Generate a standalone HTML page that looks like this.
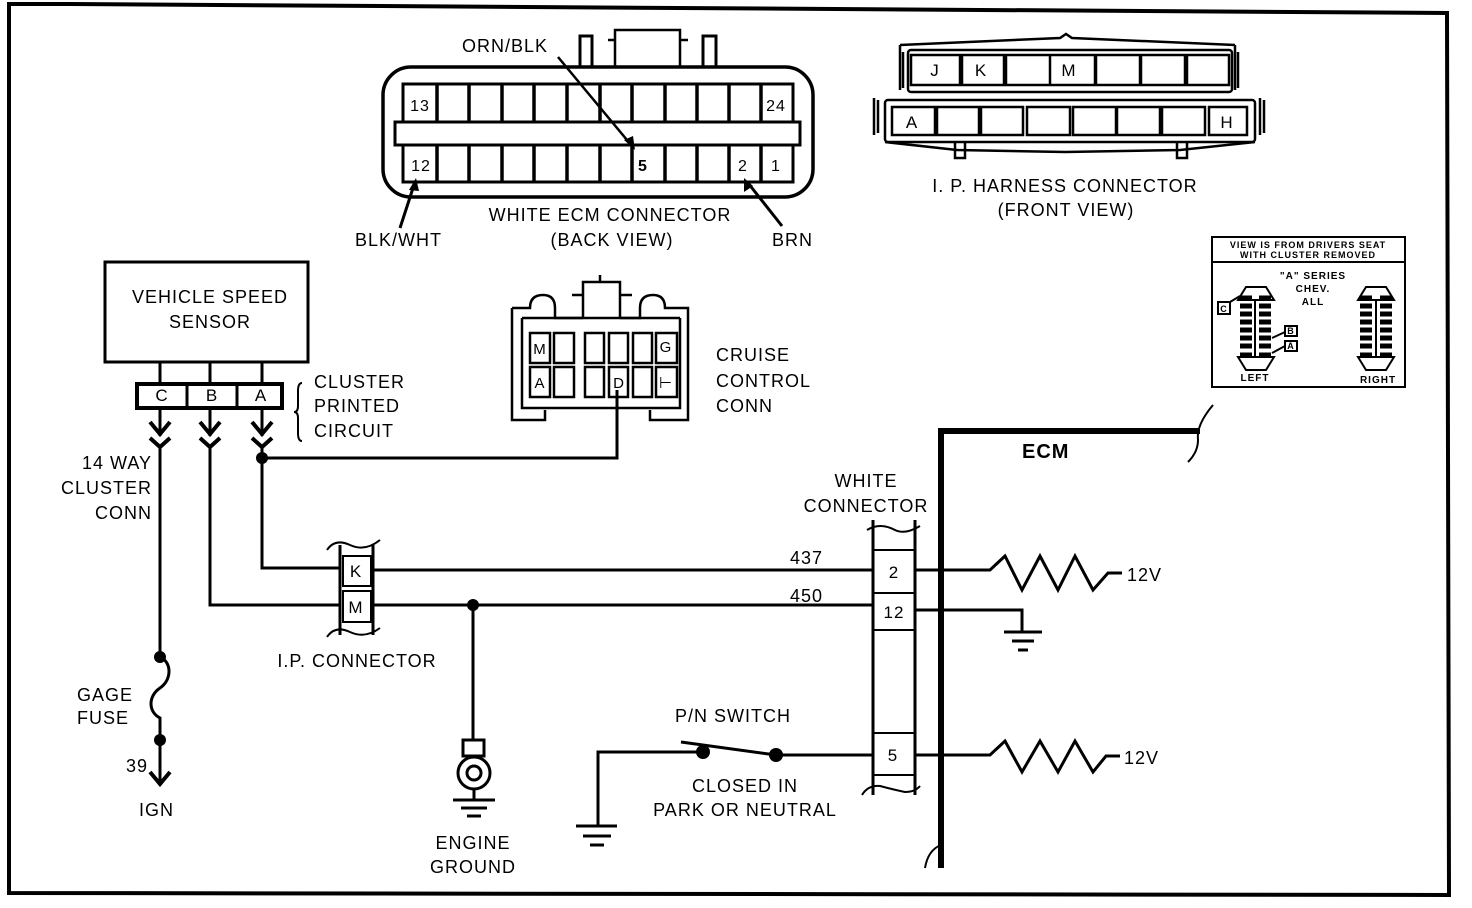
<!DOCTYPE html>
<html><head><meta charset="utf-8"><style>
html,body{margin:0;padding:0;background:#fff;}
svg{display:block;}
text{font-family:"Liberation Sans",sans-serif;fill:#000;letter-spacing:1px;}
</style></head><body>
<svg width="1472" height="908" viewBox="0 0 1472 908" xmlns="http://www.w3.org/2000/svg">
<g fill="none" stroke="#000" stroke-width="3">
<path d="M9,60 L9,4 L70,4 L1447,13 L1449,895 L9,893 L9,60" stroke-width="4"/>
</g>
<g fill="none" stroke="#000" stroke-width="2.5">
<rect x="383" y="67" width="430" height="130" rx="28" stroke-width="3.5"/>
<path d="M580,67 V36 H592 V67 M703,67 V36 H716 V67" stroke-width="3"/>
<path d="M615,66 V30 H680 V66 M608,40 H615 M680,40 H688"/>
<rect x="395" y="122" width="405" height="23" stroke-width="3"/>
<path d="M403,122 V84 H793 V122 M403,145 V182 H793 V145" stroke-width="3"/>
<g stroke-width="3.5">
<path d="M437,84 V122 M469,84 V122 M502,84 V122 M534,84 V122 M567,84 V122 M600,84 V122 M632,84 V122 M665,84 V122 M697,84 V122 M729,84 V122 M761,84 V122"/>
<path d="M437,145 V182 M469,145 V182 M502,145 V182 M534,145 V182 M567,145 V182 M600,145 V182 M632,145 V182 M665,145 V182 M697,145 V182 M729,145 V182 M761,145 V182"/>
</g>
<path d="M558,57 L632,146" stroke-width="2.5"/>
<path d="M400,228 L414,185" stroke-width="3"/>
<path d="M782,226 L748,183" stroke-width="3"/>
</g>
<g fill="#000">
<polygon points="635,150 624,140 633,136"/>
<polygon points="416,178 409,190 419,191"/>
<polygon points="744,178 744,192 753,186"/>
</g>
<g font-size="18">
<text x="420" y="111" text-anchor="middle" font-size="16">13</text>
<text x="776" y="111" text-anchor="middle" font-size="16">24</text>
<text x="421" y="171" text-anchor="middle" font-size="16">12</text>
<text x="643" y="171" text-anchor="middle" font-size="16" font-weight="bold">5</text>
<text x="743" y="171" text-anchor="middle" font-size="16">2</text>
<text x="776" y="171" text-anchor="middle" font-size="16">1</text>
<text x="462" y="52">ORN/BLK</text>
<text x="355" y="246">BLK/WHT</text>
<text x="772" y="246">BRN</text>
<text x="610" y="221" text-anchor="middle">WHITE ECM CONNECTOR</text>
<text x="612" y="246" text-anchor="middle">(BACK VIEW)</text>
</g>

<g fill="none" stroke="#000" stroke-width="2.5">
<path d="M900,45 L1060,38 L1066,34 L1072,38 L1235,45"/>
<rect x="908" y="50" width="324" height="42" rx="3"/>
<path d="M900,45 V90 M1235,45 V90 M903,52 V88 M1238,52 V88"/>
<path d="M911,55 h51 v30 h-51z M960,55 h44 v30 h-44z M1006,55 h44 v30 h-44z M1050,55 h45 v30 h-45z M1096,55 h44 v30 h-44z M1141,55 h44 v30 h-44z M1187,55 h42 v30 h-42z"/>
<rect x="885" y="100" width="370" height="42" rx="3"/>
<path d="M874,98 V135 M1260,98 V135 M878,100 V133 M1264,100 V133"/>
<path d="M892,107 h43 v28 h-43z M937,107 h42 v28 h-42z M981,107 h42 v28 h-42z M1027,107 h43 v28 h-43z M1073,107 h43 v28 h-43z M1117,107 h43 v28 h-43z M1162,107 h43 v28 h-43z M1209,107 h38 v28 h-38z"/>
<path d="M885,142 L957,150 L1065,152 L1180,150 L1255,142"/>
<path d="M955,142 V158 H965 V142 M1177,142 V158 H1187 V142"/>
</g>
<g font-size="17" text-anchor="middle">
<text x="935" y="76">J</text><text x="981" y="76">K</text><text x="1069" y="76">M</text>
<text x="912" y="128">A</text><text x="1227" y="128">H</text>
</g>
<g font-size="18" text-anchor="middle">
<text x="1065" y="192">I. P. HARNESS CONNECTOR</text>
<text x="1066" y="216">(FRONT VIEW)</text>
</g>

<g fill="none" stroke="#000" stroke-width="2">
<rect x="1212" y="237" width="193" height="150"/>
<path d="M1212,262 H1405"/>
<path d="M1238,300 L1246,287 H1266 L1274,300 Z M1238,357 L1246,370 H1266 L1274,357 Z"/>
<path d="M1255,300 V358"/>
<path d="M1358,300 L1366,287 H1386 L1394,300 Z M1358,357 L1366,370 H1386 L1394,357 Z"/>
<path d="M1376,300 V358"/>
<path d="M1230,302 h-12 v12 h12 z M1285,326 h12 v10 h-12z M1285,341 h12 v10 h-12z M1230,302 L1240,296 M1285,332 L1272,338 M1285,346 L1272,353"/>
</g>
<g stroke="#000" stroke-width="5">
<path d="M1240,298 h12 M1240,306 h12 M1240,314 h12 M1240,322 h12 M1240,330 h12 M1240,338 h12 M1240,346 h12 M1240,355 h12"/>
<path d="M1259,298 h12 M1259,306 h12 M1259,314 h12 M1259,322 h12 M1259,330 h12 M1259,338 h12 M1259,346 h12 M1259,355 h12"/>
<path d="M1360,298 h12 M1360,306 h12 M1360,314 h12 M1360,322 h12 M1360,330 h12 M1360,338 h12 M1360,346 h12 M1360,355 h12"/>
<path d="M1380,298 h12 M1380,306 h12 M1380,314 h12 M1380,322 h12 M1380,330 h12 M1380,338 h12 M1380,346 h12 M1380,355 h12"/>
</g>
<g font-size="9" font-weight="bold" text-anchor="middle" style="letter-spacing:0">
<text x="1308" y="248">VIEW IS FROM DRIVERS SEAT</text>
<text x="1308" y="258">WITH CLUSTER REMOVED</text>
<text x="1313" y="279" font-size="10">"A" SERIES</text>
<text x="1313" y="292" font-size="10">CHEV.</text>
<text x="1313" y="305" font-size="10">ALL</text>
<text x="1224" y="312">C</text><text x="1291" y="334">B</text><text x="1291" y="349">A</text>
<text x="1255" y="381" font-size="10">LEFT</text><text x="1378" y="383" font-size="10">RIGHT</text>
</g>

<g fill="none" stroke="#000" stroke-width="3">
<rect x="105" y="262" width="203" height="100"/>
<path d="M160,362 V384 M210,362 V384 M262,362 V384"/>
<rect x="137" y="384" width="145" height="24" stroke-width="4"/>
<path d="M187,384 V408 M237,384 V408"/>
<path d="M160,408 V436 M210,408 V436 M262,408 V436"/>
<path d="M150,422 L160,434 L170,422 M200,422 L210,434 L220,422 M252,422 L262,434 L272,422" stroke-width="4"/>
<path d="M150,438 L160,447 L170,438 M200,438 L210,447 L220,438 M252,438 L262,447 L272,438" stroke-width="4"/>
<path d="M302,383 q-4,0 -4,8 v15 q0,6 -4,6 q4,0 4,6 v15 q0,8 4,8" stroke-width="2"/>
<path d="M160,447 V657 M210,447 V605 H340 M262,447 V568 H340 M262,458 H617 V390"/>
<path d="M160,657 C172,662 172,680 160,688 C148,696 148,712 160,718 V783"/>
<path d="M150,772 L160,784 L170,772" stroke-width="4"/>
</g>
<g fill="#000">
<circle cx="262" cy="458" r="6"/><circle cx="160" cy="657" r="6"/><circle cx="160" cy="740" r="6"/>
<circle cx="473" cy="605" r="6"/><circle cx="703" cy="752" r="7"/><circle cx="776" cy="755" r="7"/>
</g>
<g font-size="18">
<text x="210" y="303" text-anchor="middle">VEHICLE SPEED</text>
<text x="210" y="328" text-anchor="middle">SENSOR</text>
<text x="162" y="401" text-anchor="middle" font-size="17">C</text>
<text x="212" y="401" text-anchor="middle" font-size="17">B</text>
<text x="261" y="401" text-anchor="middle" font-size="17">A</text>
<text x="314" y="388">CLUSTER</text>
<text x="314" y="412">PRINTED</text>
<text x="314" y="437">CIRCUIT</text>
<text x="152" y="469" text-anchor="end">14 WAY</text>
<text x="152" y="494" text-anchor="end">CLUSTER</text>
<text x="152" y="519" text-anchor="end">CONN</text>
<text x="77" y="701">GAGE</text>
<text x="77" y="724">FUSE</text>
<text x="126" y="772">39</text>
<text x="139" y="816">IGN</text>
</g>

<g fill="none" stroke="#000" stroke-width="2.5">
<path d="M583,318 V282 H620 V318 M600,275 V282"/>
<path d="M572,295 H583 M620,295 H632"/>
<path d="M512,308 H530 Q530,295 543,295 Q555,295 555,308 V318 H583 M620,318 H640 V308 Q640,295 653,295 Q665,295 665,308 H688 V420 H650 V410 M512,308 V420 H545 V410"/>
<path d="M522,318 V408 H680 V318 M522,318 H680"/>
<rect x="530" y="333" width="20" height="30"/><rect x="554" y="333" width="20" height="30"/>
<rect x="585" y="333" width="19" height="30"/><rect x="609" y="333" width="19" height="30"/>
<rect x="633" y="333" width="19" height="30"/><rect x="656" y="333" width="21" height="30"/>
<rect x="530" y="367" width="20" height="30"/><rect x="554" y="367" width="20" height="30"/>
<rect x="585" y="367" width="19" height="30"/><rect x="609" y="367" width="19" height="30"/>
<rect x="633" y="367" width="19" height="30"/><rect x="656" y="367" width="21" height="30"/>
</g>
<g font-size="15" text-anchor="middle">
<text x="540" y="354">M</text><text x="666" y="352">G</text>
<text x="540" y="388">A</text><text x="619" y="388">D</text><text x="666" y="388">⊢</text>
</g>
<g font-size="18">
<text x="716" y="361">CRUISE</text>
<text x="716" y="387">CONTROL</text>
<text x="716" y="412">CONN</text>
</g>

<g fill="none" stroke="#000" stroke-width="3">
<path d="M340,545 V635 M373,545 V635"/>
<path d="M327,550 Q335,538 350,545 Q365,552 380,540" stroke-width="2"/>
<path d="M327,637 Q335,625 350,632 Q365,639 380,628" stroke-width="2"/>
<rect x="343" y="556" width="28" height="30" stroke-width="2"/>
<rect x="343" y="591" width="28" height="31" stroke-width="2"/>
<path d="M373,570 H873 M373,605 H873"/>
<path d="M473,605 V740"/>
<rect x="463" y="740" width="21" height="16"/>
<circle cx="474" cy="773" r="16"/><circle cx="474" cy="773" r="7"/>
<path d="M474,789 V800 M453,800 H495 M461,808 H487 M467,816 H481"/>
</g>
<g font-size="17" text-anchor="middle">
<text x="356" y="577">K</text><text x="356" y="613">M</text>
</g>
<g font-size="18">
<text x="357" y="667" text-anchor="middle">I.P. CONNECTOR</text>
<text x="790" y="564">437</text>
<text x="790" y="602">450</text>
<text x="473" y="849" text-anchor="middle">ENGINE</text>
<text x="473" y="873" text-anchor="middle">GROUND</text>
<text x="733" y="722" text-anchor="middle">P/N SWITCH</text>
<text x="745" y="792" text-anchor="middle">CLOSED IN</text>
<text x="745" y="816" text-anchor="middle">PARK OR NEUTRAL</text>
<text x="866" y="487" text-anchor="middle">WHITE</text>
<text x="866" y="512" text-anchor="middle">CONNECTOR</text>
<text x="1022" y="458" font-weight="bold" font-size="20">ECM</text>
<text x="1127" y="581">12V</text>
<text x="1124" y="764">12V</text>
</g>

<g fill="none" stroke="#000" stroke-width="3">
<path d="M598,826 V752 H703 M681,742 L776,755 M776,755 H873"/>
<path d="M576,826 H617 M583,836 H611 M590,845 H604"/>
<path d="M873,520 V795 M915,520 V795"/>
<path d="M867,530 Q880,522 895,530 Q905,535 920,526" stroke-width="2"/>
<path d="M862,795 Q868,785 880,786 Q895,790 905,792 Q915,792 920,786" stroke-width="2"/>
<path d="M873,550 H915 M873,593 H915 M873,630 H915 M873,733 H915 M873,775 H915" stroke-width="2"/>
<path d="M941,868 V431 H1200" stroke-width="6"/>
<path d="M1213,405 Q1196,425 1198,440 Q1198,452 1188,462" stroke-width="2"/>
<path d="M941,845 Q928,850 925,868" stroke-width="2"/>
<path d="M915,570 H990 L1005,556 L1022,590 L1040,556 L1058,590 L1075,556 L1093,590 L1108,573 H1122"/>
<path d="M915,610 H1022 V632 M1004,632 H1042 M1012,641 H1034 M1018,650 H1028"/>
<path d="M915,755 H990 L1005,741 L1022,772 L1040,741 L1058,772 L1075,741 L1093,772 L1106,756 H1120"/>
</g>
<g font-size="17" text-anchor="middle">
<text x="894" y="578">2</text><text x="894" y="618">12</text><text x="893" y="761">5</text>
</g>
<text x="406" y="925" font-size="22" style="letter-spacing:3px">Figure 4? Wiring Diagram Code 24</text>
</svg>
</body></html>
